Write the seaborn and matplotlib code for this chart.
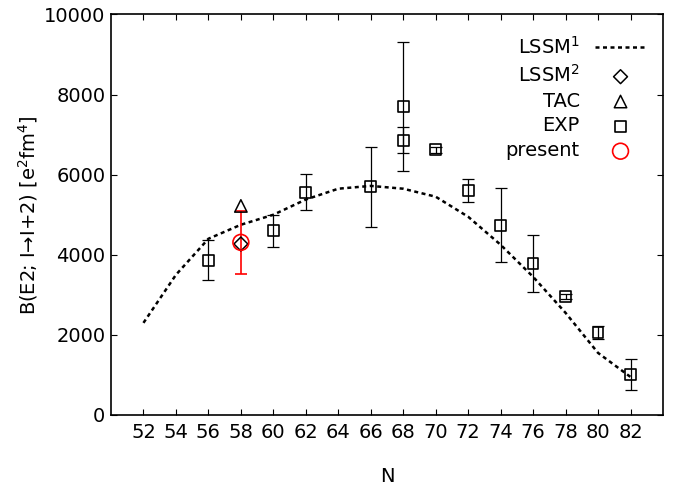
import matplotlib
matplotlib.use("Agg")
import matplotlib.pyplot as plt
import seaborn as sns
import pandas as pd

# LSSM(1) calculation
lssm1_n = [52, 54, 56, 58, 60, 62, 64, 66, 68, 70, 72, 74, 76, 78, 80, 82]
lssm1_be2 = [2300, 3500, 4400, 4750, 5000, 5380, 5650, 5720, 5650, 5450,
             4950, 4250, 3450, 2550, 1550, 950]

# LSSM(2) and TAC calculations
lssm2_n = [58]
lssm2_be2 = [4270]
tac_n = [58]
tac_be2 = [5220]

# Experimental values
exp_n = [56, 60, 62, 66, 68, 68, 70, 72, 74, 76, 78, 80, 82]
exp_be2 = [3860, 4600, 5560, 5700, 7710, 6860, 6620, 5610, 4740, 3790, 2960, 2060, 1020]
exp_err = [500, 400, 450, 1000, 1610, 330, 80, 280, 920, 710, 60, 170, 390]

# Present measurement
present_n = [58]
present_be2 = [4310]
present_err = [780]

sns.set_theme(style="ticks")
plt.rcParams["font.family"] = ["DejaVu Sans"]
plt.rcParams["mathtext.fontset"] = "dejavusans"
plt.rcParams["text.color"] = "black"
plt.rcParams["axes.labelcolor"] = "black"
plt.rcParams["xtick.color"] = "black"
plt.rcParams["ytick.color"] = "black"

fig = plt.figure(figsize=(6.83, 4.86), dpi=100)
ax = fig.add_axes([0.1625, 0.1461, 0.8082, 0.8241])

lssm1 = pd.DataFrame({"N": lssm1_n, "BE2": lssm1_be2})
sns.lineplot(data=lssm1, x="N", y="BE2", ax=ax, color="black",
             linewidth=1.8, linestyle=(0, (1.6, 1.4)), label="LSSM$^1$")

ax.errorbar(exp_n, exp_be2, yerr=exp_err, fmt="none", ecolor="black",
            elinewidth=0.9, capsize=4, capthick=0.9, zorder=3)
ax.errorbar(present_n, present_be2, yerr=present_err, fmt="none", ecolor="red",
            elinewidth=1.2, capsize=4, capthick=1.2, zorder=3)

sns.scatterplot(x=lssm2_n, y=lssm2_be2, ax=ax, marker="D", s=50,
                facecolor="none", edgecolor="black", linewidth=1.1,
                label="LSSM$^2$", zorder=4)
sns.scatterplot(x=tac_n, y=tac_be2, ax=ax, marker="^", s=80,
                facecolor="none", edgecolor="black", linewidth=1.1,
                label="TAC", zorder=4)
sns.scatterplot(x=exp_n, y=exp_be2, ax=ax, marker="s", s=60,
                facecolor="none", edgecolor="black", linewidth=1.2,
                label="EXP", zorder=4)
sns.scatterplot(x=present_n, y=present_be2, ax=ax, marker="o", s=130,
                facecolor="none", edgecolor="red", linewidth=1.2,
                label="present", zorder=5)

ax.set_xlim(50, 84)
ax.set_ylim(0, 10000)
ax.set_xticks(list(range(52, 83, 2)))
ax.set_yticks([0, 2000, 4000, 6000, 8000, 10000])

for s in ax.spines.values():
    s.set_visible(True)
    s.set_linewidth(1.2)
    s.set_color("black")

ax.tick_params(axis="both", which="major", direction="in", length=4.5,
               width=0.8, labelsize=14, top=True, right=True,
               color="black", labelcolor="black")
ax.tick_params(axis="x", pad=6)
ax.tick_params(axis="y", pad=4)

ax.set_xlabel("N", fontsize=14, labelpad=18, color="black")
ax.set_ylabel("B(E2; I\u2192I+2) [e$^2$fm$^4$]", fontsize=14, labelpad=3,
              color="black")

leg = ax.legend(loc="upper right", bbox_to_anchor=(0.99, 0.975), frameon=False,
                markerfirst=False, fontsize=14, handlelength=2.6,
                handletextpad=0.8, labelspacing=0.3, borderaxespad=0.2)
for t in leg.get_texts():
    t.set_color("black")

fig.savefig("out.png", dpi=100)
